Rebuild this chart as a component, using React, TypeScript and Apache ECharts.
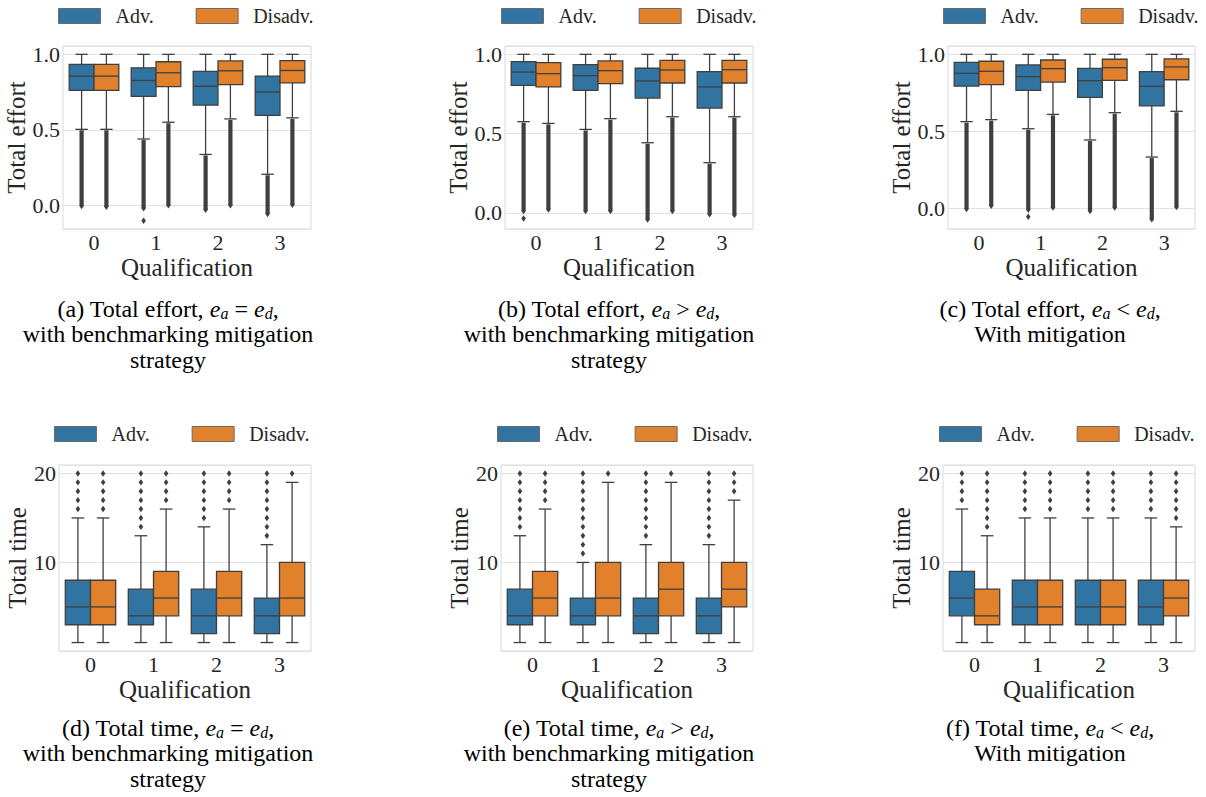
import React, { useEffect, useRef } from 'react';
import * as echarts from 'echarts';

const categories = ['0', '1', '2', '3'];
const hueNames = ['Adv.', 'Disadv.'];

// Box stats per qualification: [lower whisker, Q1, median, Q3, upper whisker]
// (a) Total effort, e_a = e_d
const effortA_adv = [[0.504, 0.762, 0.856, 0.933, 1.0], [0.44, 0.722, 0.827, 0.911, 1.0], [0.338, 0.664, 0.789, 0.887, 1.0], [0.207, 0.596, 0.751, 0.856, 1.0]];
const effortA_dis = [[0.504, 0.762, 0.856, 0.933, 1.0], [0.551, 0.787, 0.878, 0.951, 1.0], [0.573, 0.8, 0.891, 0.956, 1.0], [0.58, 0.811, 0.893, 0.958, 1.0]];
const effortA_advOutMin = [-0.015, -0.03, -0.04, -0.067];
const effortA_disOutMin = [-0.02, -0.01, -0.01, -0.007];
const effortA_advSingles = [[1, -0.1]];
const effortA_disSingles: number[][] = [];

// (b) Total effort, e_a > e_d
const effortB_adv = [[0.575, 0.804, 0.888, 0.954, 1.0], [0.526, 0.773, 0.865, 0.935, 1.0], [0.442, 0.724, 0.832, 0.912, 1.0], [0.316, 0.661, 0.794, 0.891, 1.0]];
const effortB_dis = [[0.564, 0.794, 0.878, 0.947, 1.0], [0.594, 0.815, 0.897, 0.958, 1.0], [0.606, 0.819, 0.901, 0.962, 1.0], [0.606, 0.819, 0.903, 0.962, 1.0]];
const effortB_advOutMin = [0.0, 0.0, -0.053, -0.02];
const effortB_disOutMin = [0.01, 0.0, 0.0, -0.025];
const effortB_advSingles = [[0, -0.036]];
const effortB_disSingles: number[][] = [];

// (c) Total effort, e_a < e_d
const effortC_adv = [[0.563, 0.794, 0.877, 0.948, 1.0], [0.517, 0.766, 0.855, 0.931, 1.0], [0.444, 0.721, 0.829, 0.909, 1.0], [0.333, 0.665, 0.792, 0.887, 1.0]];
const effortC_dis = [[0.576, 0.803, 0.89, 0.955, 1.0], [0.61, 0.82, 0.907, 0.963, 1.0], [0.621, 0.831, 0.913, 0.968, 1.0], [0.63, 0.835, 0.918, 0.97, 1.0]];
const effortC_advOutMin = [-0.015, -0.02, -0.028, -0.082];
const effortC_disOutMin = [0.005, -0.006, -0.006, -0.002];
const effortC_advSingles = [[1, -0.054]];
const effortC_disSingles: number[][] = [];

// (d) Total time, e_a = e_d
const timeD_adv = [[1, 3, 5, 8, 15], [1, 3, 4, 7, 13], [1, 2, 4, 7, 14], [1, 2, 4, 6, 12]];
const timeD_dis = [[1, 3, 5, 8, 15], [1, 4, 6, 9, 16], [1, 4, 6, 9, 16], [1, 4, 6, 10, 19]];
const timeD_advOut = [[16, 17, 18, 19, 20], [14, 15, 16, 17, 18, 19, 20], [15, 16, 17, 18, 19, 20], [13, 14, 15, 16, 17, 18, 19, 20]];
const timeD_disOut = [[16, 17, 18, 19, 20], [17, 18, 19, 20], [17, 18, 19, 20], [20]];

// (e) Total time, e_a > e_d
const timeE_adv = [[1, 3, 4, 7, 13], [1, 3, 4, 6, 10], [1, 2, 4, 6, 12], [1, 2, 4, 6, 12]];
const timeE_dis = [[1, 4, 6, 9, 16], [1, 4, 6, 10, 19], [1, 4, 7, 10, 19], [1, 5, 7, 10, 17]];
const timeE_advOut = [[14, 15, 16, 17, 18, 19, 20], [11, 12, 13, 14, 15, 16, 17, 18, 19, 20], [13, 14, 15, 16, 17, 18, 19, 20], [13, 14, 15, 16, 17, 18, 19, 20]];
const timeE_disOut = [[17, 18, 19, 20], [20], [20], [18, 19, 20]];

// (f) Total time, e_a < e_d
const timeF_adv = [[1, 4, 6, 9, 16], [1, 3, 5, 8, 15], [1, 3, 5, 8, 15], [1, 3, 5, 8, 15]];
const timeF_dis = [[1, 3, 4, 7, 13], [1, 3, 5, 8, 15], [1, 3, 5, 8, 15], [1, 4, 6, 8, 14]];
const timeF_advOut = [[17, 18, 19, 20], [16, 17, 18, 19, 20], [16, 17, 18, 19, 20], [16, 17, 18, 19, 20]];
const timeF_disOut = [[14, 15, 16, 17, 18, 19, 20], [16, 17, 18, 19, 20], [16, 17, 18, 19, 20], [15, 16, 17, 18, 19, 20]];

const captions = [
  '(a) Total effort, {i|e}{s|a}{m|=}{i|e}{s|d},\nwith benchmarking mitigation\nstrategy',
  '(b) Total effort, {i|e}{s|a}{m|>}{i|e}{s|d},\nwith benchmarking mitigation\nstrategy',
  '(c) Total effort, {i|e}{s|a}{m|<}{i|e}{s|d},\nWith mitigation',
  '(d) Total time, {i|e}{s|a}{m|=}{i|e}{s|d},\nwith benchmarking mitigation\nstrategy',
  '(e) Total time, {i|e}{s|a}{m|>}{i|e}{s|d},\nwith benchmarking mitigation\nstrategy',
  '(f) Total time, {i|e}{s|a}{m|<}{i|e}{s|d},\nWith mitigation',
];

const BLUE = '#3274a1';
const ORANGE = '#e1812c';
const LINE = '#3f3f3f';
const TEXT = '#262626';
const FONT = "'Liberation Serif', 'Times New Roman', serif";

type Panel = {
  kind: 'effort' | 'time';
  grid: { left: number; top: number; width: number; height: number };
  legend: { left: number; top: number };
  caption: { x: number; y: number };
  min: number;
  max: number;
  adv: number[][];
  dis: number[][];
  advOutMin?: number[];
  disOutMin?: number[];
  advPts: number[][];
  disPts: number[][];
};

const toPts = (out: number[][]) => out.flatMap((vals, c) => vals.map((v) => [c, v]));

const panels: Panel[] = [
  { kind: 'effort', grid: { left: 63, top: 46, width: 248, height: 183 }, legend: { left: 58, top: 6 }, caption: { x: 168, y: 296 }, min: -0.155, max: 1.055, adv: effortA_adv, dis: effortA_dis, advOutMin: effortA_advOutMin, disOutMin: effortA_disOutMin, advPts: effortA_advSingles, disPts: effortA_disSingles },
  { kind: 'effort', grid: { left: 505, top: 46, width: 248, height: 183 }, legend: { left: 501, top: 6 }, caption: { x: 609, y: 296 }, min: -0.1025, max: 1.0525, adv: effortB_adv, dis: effortB_dis, advOutMin: effortB_advOutMin, disOutMin: effortB_disOutMin, advPts: effortB_advSingles, disPts: effortB_disSingles },
  { kind: 'effort', grid: { left: 948, top: 46, width: 247, height: 183 }, legend: { left: 943, top: 6 }, caption: { x: 1050, y: 296 }, min: -0.134, max: 1.054, adv: effortC_adv, dis: effortC_dis, advOutMin: effortC_advOutMin, disOutMin: effortC_disOutMin, advPts: effortC_advSingles, disPts: effortC_disSingles },
  { kind: 'time', grid: { left: 59, top: 465, width: 252, height: 186 }, legend: { left: 54, top: 424 }, caption: { x: 168, y: 715 }, min: 0.05, max: 20.95, adv: timeD_adv, dis: timeD_dis, advPts: toPts(timeD_advOut), disPts: toPts(timeD_disOut) },
  { kind: 'time', grid: { left: 501, top: 465, width: 252, height: 186 }, legend: { left: 497, top: 424 }, caption: { x: 609, y: 715 }, min: 0.05, max: 20.95, adv: timeE_adv, dis: timeE_dis, advPts: toPts(timeE_advOut), disPts: toPts(timeE_disOut) },
  { kind: 'time', grid: { left: 943, top: 465, width: 252, height: 186 }, legend: { left: 939, top: 424 }, caption: { x: 1050, y: 715 }, min: 0.05, max: 20.95, adv: timeF_adv, dis: timeF_dis, advPts: toPts(timeF_advOut), disPts: toPts(timeF_disOut) },
];

function boxRenderer(side: number, color: string) {
  return (_params: any, api: any) => {
    const c = api.value(0);
    const band = api.size([1, 0])[0];
    const bw = band * 0.4;
    const cx = api.coord([c, 0])[0] + (side * bw) / 2;
    const y = (k: number) => api.coord([c, api.value(k)])[1];
    const yLo = y(1), yQ1 = y(2), yMed = y(3), yQ3 = y(4), yHi = y(5);
    const ls = { stroke: LINE, lineWidth: 1.3 };
    const cap = bw / 4;
    return {
      type: 'group',
      children: [
        { type: 'line', shape: { x1: cx, y1: yLo, x2: cx, y2: yQ1 }, style: ls },
        { type: 'line', shape: { x1: cx, y1: yQ3, x2: cx, y2: yHi }, style: ls },
        { type: 'line', shape: { x1: cx - cap, y1: yLo, x2: cx + cap, y2: yLo }, style: ls },
        { type: 'line', shape: { x1: cx - cap, y1: yHi, x2: cx + cap, y2: yHi }, style: ls },
        { type: 'rect', shape: { x: cx - bw / 2, y: yQ3, width: bw, height: yQ1 - yQ3 }, style: { fill: color, stroke: LINE, lineWidth: 1.3 } },
        { type: 'line', shape: { x1: cx - bw / 2, y1: yMed, x2: cx + bw / 2, y2: yMed }, style: ls },
      ],
    };
  };
}

function columnRenderer(side: number) {
  return (_params: any, api: any) => {
    const c = api.value(0);
    const bw = api.size([1, 0])[0] * 0.4;
    const cx = api.coord([c, 0])[0] + (side * bw) / 2;
    const yTop = api.coord([c, api.value(1)])[1] + 1;
    const yBot = api.coord([c, api.value(2)])[1];
    return {
      type: 'group',
      children: [
        { type: 'line', shape: { x1: cx, y1: yTop, x2: cx, y2: yBot - 2 }, style: { stroke: LINE, lineWidth: 4.2 } },
        { type: 'polygon', shape: { points: [[cx, yBot - 5], [cx + 2.4, yBot - 2], [cx, yBot + 1.5], [cx - 2.4, yBot - 2]] }, style: { fill: LINE } },
      ],
    };
  };
}

function diamondRenderer(side: number) {
  return (_params: any, api: any) => {
    const c = api.value(0);
    const bw = api.size([1, 0])[0] * 0.4;
    const cx = api.coord([c, 0])[0] + (side * bw) / 2;
    const cy = api.coord([c, api.value(1)])[1];
    return {
      type: 'polygon',
      shape: { points: [[cx, cy - 3.2], [cx + 2.3, cy], [cx, cy + 3.2], [cx - 2.3, cy]] },
      style: { fill: LINE },
    };
  };
}

function buildOption() {
  const grid: any[] = [];
  const xAxis: any[] = [];
  const yAxis: any[] = [];
  const series: any[] = [];
  const legend: any[] = [];
  const graphic: any[] = [];

  panels.forEach((p, i) => {
    grid.push({ ...p.grid, show: true, borderColor: '#d9d9d9', borderWidth: 1, backgroundColor: 'transparent' });
    xAxis.push({
      type: 'category', gridIndex: i, data: categories,
      axisLine: { show: false }, axisTick: { show: false }, splitLine: { show: false },
      axisLabel: { fontSize: 22, lineHeight: 20, fontFamily: FONT, color: TEXT, margin: 3 },
      name: 'Qualification', nameLocation: 'middle', nameGap: 27, nameMoveOverlap: false,
      nameTextStyle: { fontSize: 25, lineHeight: 22, fontFamily: FONT, color: TEXT },
    });
    yAxis.push({
      type: 'value', gridIndex: i, min: p.min, max: p.max, splitNumber: 2,
      axisLine: { show: false }, axisTick: { show: false },
      axisLabel: {
        fontSize: 22, fontFamily: FONT, color: TEXT, margin: 3,
        showMinLabel: false, showMaxLabel: false,
        formatter: (v: number) => (p.kind === 'effort' ? v.toFixed(1) : String(Math.round(v))),
      },
      splitLine: { show: true, lineStyle: { color: '#e2e2e2', width: 1 } },
      name: p.kind === 'effort' ? 'Total effort' : 'Total time',
      nameLocation: 'middle', nameGap: p.kind === 'effort' ? 34 : 25, nameRotate: 90,
      nameTextStyle: { fontSize: 25, fontFamily: FONT, color: TEXT },
    });

    const common = { xAxisIndex: i, yAxisIndex: i, silent: true };
    series.push({
      ...common, type: 'custom', name: hueNames[0], itemStyle: { color: BLUE },
      renderItem: boxRenderer(-1, BLUE), encode: { x: 0, y: [1, 2, 3, 4, 5] },
      data: p.adv.map((b, c) => [c, ...b]),
    });
    series.push({
      ...common, type: 'custom', name: hueNames[1], itemStyle: { color: ORANGE },
      renderItem: boxRenderer(1, ORANGE), encode: { x: 0, y: [1, 2, 3, 4, 5] },
      data: p.dis.map((b, c) => [c, ...b]),
    });
    if (p.advOutMin && p.disOutMin) {
      series.push({
        ...common, type: 'custom', name: 'Adv. outliers', renderItem: columnRenderer(-1), encode: { x: 0, y: [1, 2] },
        data: p.advOutMin.map((m, c) => [c, p.adv[c][0], m]),
      });
      series.push({
        ...common, type: 'custom', name: 'Disadv. outliers', renderItem: columnRenderer(1), encode: { x: 0, y: [1, 2] },
        data: p.disOutMin.map((m, c) => [c, p.dis[c][0], m]),
      });
    }
    series.push({
      ...common, type: 'custom', name: 'Adv. outliers', renderItem: diamondRenderer(-1), encode: { x: 0, y: 1 },
      data: p.advPts,
    });
    series.push({
      ...common, type: 'custom', name: 'Disadv. outliers', renderItem: diamondRenderer(1), encode: { x: 0, y: 1 },
      data: p.disPts,
    });

    legend.push({
      left: p.legend.left, top: p.legend.top, width: 270, padding: 0, orient: 'horizontal',
      data: hueNames, icon: 'rect', itemWidth: 42, itemHeight: 15, itemGap: 42,
      itemStyle: { borderColor: '#6b6b6b', borderWidth: 1 },
      textStyle: { fontSize: 20, fontFamily: FONT, color: TEXT, padding: [0, 0, 0, 10] },
      selectedMode: false,
    });

    graphic.push({
      type: 'text', x: p.caption.x, y: p.caption.y, silent: true,
      style: {
        text: captions[i], textAlign: 'center', textVerticalAlign: 'top',
        fontSize: 24, fontFamily: FONT, fill: '#000', lineHeight: 25.5,
        rich: {
          i: { fontSize: 24, fontFamily: FONT, fontStyle: 'italic', lineHeight: 25.5 },
          s: { fontSize: 16, fontFamily: FONT, fontStyle: 'italic', lineHeight: 16, verticalAlign: 'bottom' },
          m: { fontSize: 24, fontFamily: FONT, lineHeight: 25.5, padding: [0, 6, 0, 6] },
        },
      },
    });
  });

  return { animation: false, backgroundColor: '#ffffff', grid, xAxis, yAxis, series, legend, graphic };
}

export default function App() {
  const ref = useRef<HTMLDivElement>(null);
  useEffect(() => {
    if (!ref.current) return;
    const chart = echarts.init(ref.current, null, { renderer: 'svg' });
    chart.setOption(buildOption() as any);
    return () => chart.dispose();
  }, []);
  return <div ref={ref} style={{ position: 'absolute', left: 0, top: 0, width: 1206, height: 797 }} />;
}
